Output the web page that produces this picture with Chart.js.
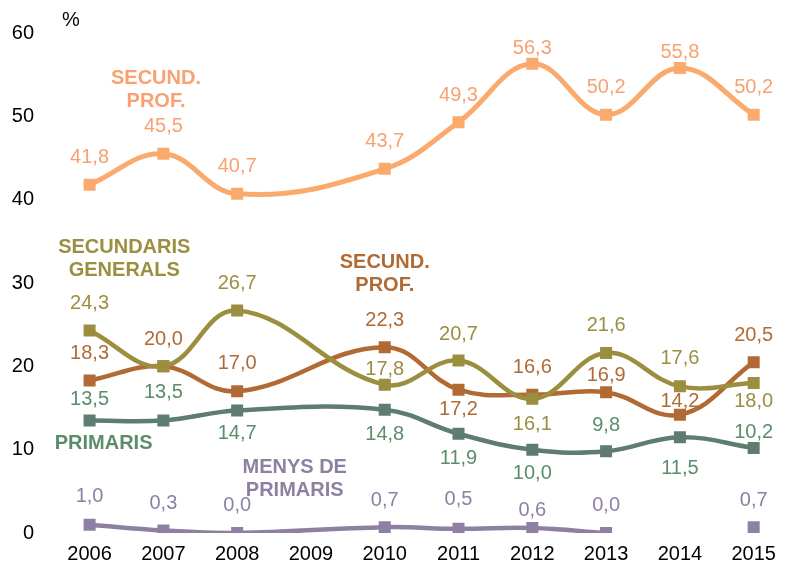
<!DOCTYPE html>
<html>
<head>
<meta charset="utf-8">
<script src="https://cdn.jsdelivr.net/npm/chart.js@4/dist/chart.umd.min.js"></script>
<style>
  html, body { margin: 0; padding: 0; background: #fff; }
  #wrap { width: 788px; height: 567px; position: relative; }
</style>
</head>
<body>
<div id="wrap"><canvas id="c" width="788" height="567"></canvas></div>
<script>
// ---- data ----
const years = [2006, 2007, 2008, 2010, 2011, 2012, 2013, 2014, 2015];
const tickYears = [2006, 2007, 2008, 2009, 2010, 2011, 2012, 2013, 2014, 2015];
const secundProfLight = [41.8, 45.5, 40.7, 43.7, 49.3, 56.3, 50.2, 55.8, 50.2];
const secundarisGenerals = [24.3, 20.0, 26.7, 17.8, 20.7, 16.1, 21.6, 17.6, 18.0];
const secundProf = [18.3, 20.0, 17.0, 22.3, 17.2, 16.6, 16.9, 14.2, 20.5];
const primaris = [13.5, 13.5, 14.7, 14.8, 11.9, 10.0, 9.8, 11.5, 10.2];
const menysDePrimaris = [1.0, 0.3, 0.0, 0.7, 0.5, 0.6, 0.0, null, 0.7];
const seriesNames = [
  ['SECUND.', 'PROF.'],
  ['SECUNDARIS', 'GENERALS'],
  ['SECUND.', 'PROF.'],
  ['PRIMARIS'],
  ['MENYS DE', 'PRIMARIS']
];

// ---- styles (label offsets in px, name anchors) ----
const labelOffsets = [
  [-27, -27, -27, -27, -27, -15, -27, -16, -27],
  [-27, null, -27, -15, -26, 26, -28, -28, 18],
  [-27, -27, -28, -27, 20, -27, -17, -13, -27],
  [-21, -28, 23, 25, 25, 24, -26, 31, -16],
  [-28, -27, -28, -27, -29, -18, -28, null, -27]
];
const nameAnchors = [
  {x: 2006.9, y: 54.6},
  {x: 2006.47, y: 34.3},
  {x: 2010.0, y: 32.5},
  {x: 2006.19, y: 10.8},
  {x: 2008.78, y: 7.9}
];
const lineColors = ['#FBAA6E', '#9B8E3F', '#B26A34', '#5E7C70', '#8E80A3'];
const textColors = ['#F8A171', '#9B8E3F', '#B06A35', '#5C8C6B', '#8E80A3'];
const lineWidths = [5, 4.5, 4.5, 4.5, 4.5];
const FONT = '"Liberation Sans", Arial, sans-serif';

const allSeries = [secundProfLight, secundarisGenerals, secundProf, primaris, menysDePrimaris];

const datasets = allSeries.map((vals, i) => ({
  data: years.map((yr, j) => ({x: yr, y: vals[j]})),
  borderColor: lineColors[i],
  backgroundColor: lineColors[i],
  pointBackgroundColor: lineColors[i],
  pointBorderWidth: 0,
  pointStyle: 'rect',
  pointRadius: 8.5,
  borderWidth: lineWidths[i],
  tension: 0.4,
  spanGaps: false,
  fill: false
}));

const labelPlugin = {
  id: 'valueLabels',
  afterDatasetsDraw(chart) {
    const ctx = chart.ctx;
    ctx.save();
    ctx.font = '20px ' + FONT;
    ctx.textAlign = 'center';
    ctx.textBaseline = 'middle';
    chart.data.datasets.forEach((ds, i) => {
      const meta = chart.getDatasetMeta(i);
      meta.data.forEach((pt, j) => {
        const v = allSeries[i][j];
        const off = labelOffsets[i][j];
        if (v === null || off === null) return;
        ctx.fillStyle = textColors[i];
        ctx.fillText(v.toFixed(1).replace('.', ','), pt.x, pt.y + off);
      });
    });
    // series names
    const xs = chart.scales.x, ys = chart.scales.y;
    ctx.font = 'bold 20px ' + FONT;
    seriesNames.forEach((lines, i) => {
      const px = xs.getPixelForValue(nameAnchors[i].x);
      const py = ys.getPixelForValue(nameAnchors[i].y);
      ctx.fillStyle = textColors[i];
      lines.forEach((t, k) => ctx.fillText(t, px, py + k * 23));
    });
    // unit
    ctx.font = '20px ' + FONT;
    ctx.fillStyle = '#000';
    ctx.fillText('%', chart.chartArea.left + 22, chart.chartArea.top - 13);
    ctx.restore();
  }
};

new Chart(document.getElementById('c'), {
  type: 'line',
  data: { datasets },
  plugins: [labelPlugin],
  options: {
    responsive: false,
    animation: false,
    events: [],
    layout: { padding: { top: 33, right: 2, left: 0, bottom: 0 } },
    plugins: { legend: { display: false }, tooltip: { enabled: false } },
    scales: {
      x: {
        type: 'linear',
        min: 2005.45,
        max: 2015.35,
        grid: { display: false, drawTicks: false },
        border: { display: false },
        afterBuildTicks: (scale) => { scale.ticks = tickYears.map(v => ({ value: v })); },
        afterFit: (scale) => { scale.height = 34; },
        ticks: {
          autoSkip: false,
          maxRotation: 0,
          padding: 9,
          color: '#000',
          font: { size: 20, family: FONT },
          callback: (v) => String(v)
        }
      },
      y: {
        min: 0,
        max: 60,
        grid: { display: false, drawTicks: false },
        border: { display: false },
        afterFit: (scale) => { scale.width = 49; },
        ticks: {
          stepSize: 10,
          padding: 15,
          color: '#000',
          font: { size: 20, family: FONT }
        }
      }
    }
  }
});
</script>
</body>
</html>
